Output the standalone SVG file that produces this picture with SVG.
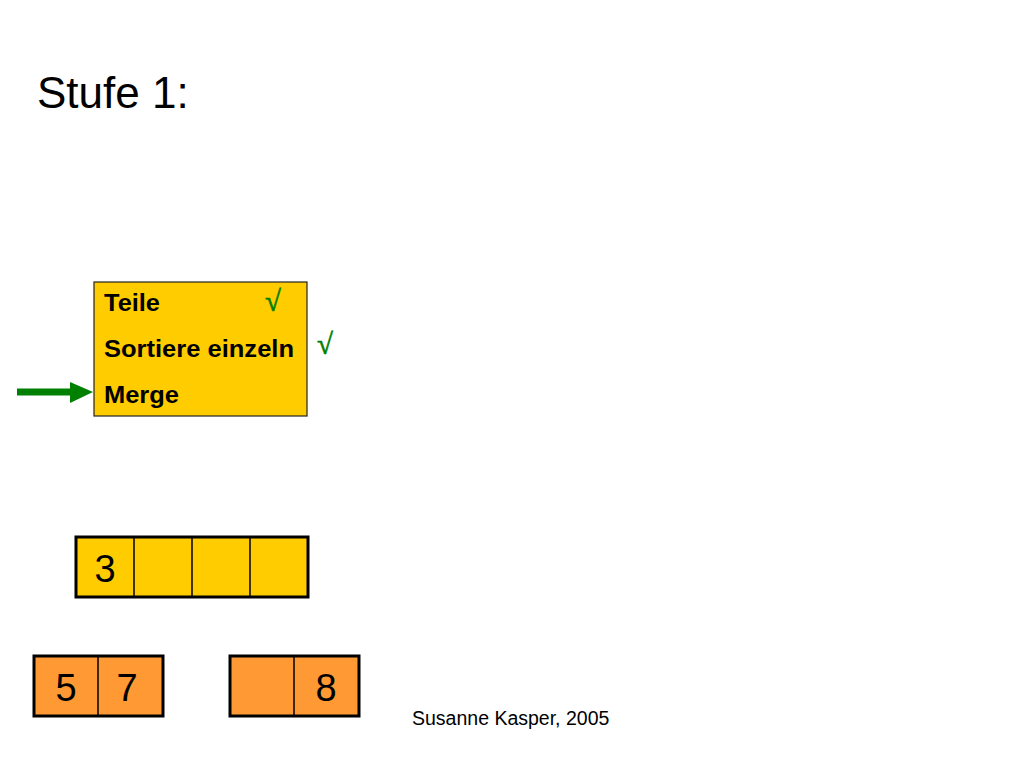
<svg xmlns="http://www.w3.org/2000/svg" width="1024" height="768" viewBox="0 0 1024 768">
<style>
.t{font-family:"Liberation Sans",Arial,sans-serif;fill:#000}
.b{font-weight:bold;font-size:23px}
.num{font-size:38px;text-anchor:middle}
.chk{font-family:"Liberation Serif","DejaVu Serif",serif;fill:#008000;font-size:29px;stroke:#008000;stroke-width:0.6}
.y{fill:#FFCC00}
.o{fill:#FF9933}
.frame{fill:none;stroke:#000;stroke-width:3}
.div{stroke:#000;stroke-width:1.5}
</style>
<rect width="1024" height="768" fill="#fff"/>
<text class="t" x="37" y="108" font-size="44">Stufe 1:</text>

<g id="steps">
<rect x="94" y="282" width="213" height="134" fill="#FFCC00" stroke="#222" stroke-width="1.2"/>
<text class="t b" x="104" y="311" textLength="56" lengthAdjust="spacingAndGlyphs">Teile</text>
<text class="t b" x="104" y="357" textLength="190" lengthAdjust="spacingAndGlyphs">Sortiere einzeln</text>
<text class="t b" x="104" y="403" textLength="75" lengthAdjust="spacingAndGlyphs">Merge</text>
</g>
<g id="checks">
<text class="chk" x="265" y="311">√</text>
<text class="chk" x="317" y="354">√</text>
</g>
<g id="connectors">
<line x1="17" y1="392" x2="74" y2="392" stroke="#008000" stroke-width="7"/>
<polygon points="70,382 93,392 70,403" fill="#008000"/>
</g>

<g id="array4">
<rect class="y" x="76" y="537" width="232" height="60"/>
<line class="div" x1="134" y1="537" x2="134" y2="597"/>
<line class="div" x1="192" y1="537" x2="192" y2="597"/>
<line class="div" x1="250" y1="537" x2="250" y2="597"/>
<rect class="frame" x="76" y="537" width="232" height="60"/>
<text class="t num" x="105" y="582">3</text>
</g>

<g id="arrayLeft">
<rect class="o" x="34" y="656" width="129" height="60"/>
<line class="div" x1="98" y1="656" x2="98" y2="716"/>
<rect class="frame" x="34" y="656" width="129" height="60"/>
<text class="t num" x="66" y="701">5</text>
<text class="t num" x="127" y="701">7</text>
</g>

<g id="arrayRight">
<rect class="o" x="230" y="656" width="129" height="60"/>
<line class="div" x1="294" y1="656" x2="294" y2="716"/>
<rect class="frame" x="230" y="656" width="129" height="60"/>
<text class="t num" x="326" y="701">8</text>
</g>

<text class="t" x="412" y="725" font-size="19.5">Susanne Kasper, 2005</text>
</svg>
